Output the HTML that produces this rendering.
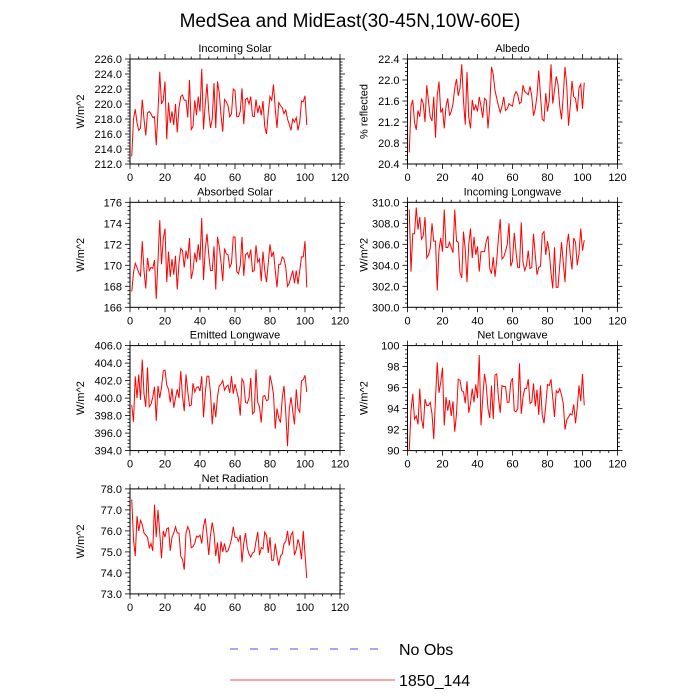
<!DOCTYPE html>
<html><head><meta charset="utf-8"><style>
html,body{margin:0;padding:0;background:#fff;}
svg{display:block;font-family:"Liberation Sans",Arial,sans-serif;}
</style></head><body>
<svg id="chart" width="700" height="700" viewBox="0 0 700 700" xmlns="http://www.w3.org/2000/svg">
<text x="350" y="27" font-size="19" text-anchor="middle">MedSea and MidEast(30-45N,10W-60E)</text>
<g id="panels"></g>
<g>
<line x1="230" y1="649" x2="387" y2="649" stroke="#6f6fff" stroke-width="1.2" stroke-dasharray="8,12"/>
<text x="399" y="655" font-size="16">No Obs</text>
<line x1="230" y1="680" x2="395" y2="680" stroke="#ff6f6f" stroke-width="1.2"/>
<text x="399" y="686" font-size="16">1850_144</text>
</g>
</svg>
<script>
const incomingSolar=[213,218,219.3,217.5,216.5,216.8,220.6,218,215.8,218.8,219,218.7,218.2,218.3,214.5,219,224.3,220,220.5,223,215.3,220.2,217.5,219,217.2,220,216.2,219.5,221,221.2,220.5,220.5,218.2,223.2,216.6,217,220.5,218.5,221,219,224.7,216.6,220,222.7,219,216.8,218,222.8,216.8,223,221.5,218.5,216.3,220.6,220.3,219.8,218.3,218.7,222,221.8,218.3,218.3,219,222.1,217.3,220.6,220.8,220,221,218.4,218.3,220.6,218.8,219.8,218.5,220.4,217,216,218.8,221,220.5,222.6,219.3,216.8,220.2,219.8,219.5,218.7,219.2,218,217.3,216.5,218,217.6,218.2,216.5,217.6,220.4,220.3,221.1,217.2];
const albedo=[20.62,21.5,21.62,21.2,21.05,21.42,21.3,21.65,21.55,21.2,21.9,21.6,21.3,21.22,21.68,20.9,21.7,21.97,21.38,21.45,21.08,21.5,21.65,21.32,21.4,21.55,21.85,22.02,21.7,21.85,22.3,21.6,21.15,22.15,21.3,21.08,21.62,21.42,21.52,21.4,21.68,21.5,21.28,21.65,21.62,21.08,21.5,22.25,22.1,21.8,21.65,21.5,21.38,21.5,21.68,21.42,21.45,21.55,21.52,21.5,21.7,21.78,21.72,21.55,21.58,21.9,21.78,21.75,21.72,21.88,21.7,21.32,21.45,21.7,22.18,21.7,21.25,21.22,21.75,21.4,21.62,22.3,21.55,21.8,22.07,21.92,21.5,21.25,21.7,22.25,21.9,21.13,21.5,21.98,21.68,21.65,21.4,21.85,21.92,21.45,21.95];
const absorbedSolar=[167.5,169.3,170.2,169.8,169.3,169,172.3,169.5,167.8,170.7,169.5,169.8,169.7,170.5,166.8,170.5,174.3,170.1,172.5,173.5,168.4,171.3,168.9,170.6,169.1,170.9,167.7,170.2,171.6,171.4,169.8,171.4,170.6,172.6,168.7,169.5,171.2,170.3,172,170.5,174.5,168.6,171.5,173,171,169.5,169.5,171.8,167.7,172.7,171.8,170.3,168.5,171.6,171.1,171,169.8,170.2,172.7,172.7,169.4,169.2,170,172.7,169,171,171.2,170.7,171.5,169.4,169.5,171.9,170.3,170.6,168.5,171.3,169.5,168.4,170.2,172,170.8,171.3,169.5,167.9,170.1,170.1,170.8,170.6,169.8,168,168.3,168.9,169.5,168.3,169.5,168.2,169.5,170.8,170.8,172.3,167.9];
const incomingLW=[309.3,303.4,307,307,309.5,307.4,308.6,306.5,306.8,308.6,304.7,305,305.6,308,306.3,306.3,301.6,305.5,306.6,305.3,309.3,305.7,305.7,306.2,305.7,305.2,309.3,306.3,306.2,303.3,302.8,307.2,305.5,302.4,306,307.5,304.7,306.7,305,305.8,303.4,305.3,305.3,305.3,306.3,306.8,303.7,303.2,304.8,302.9,304.5,306.7,308.4,304.6,304.8,305.3,306,308,303.9,304.4,307.1,305.3,303.8,303.8,308.1,304.3,303.5,304,305.4,303.7,303.8,307,305,303.1,303.8,303.9,307,307.2,305,306.3,305.3,303.3,301.8,305.7,301.9,301.9,304,306.2,304.3,302.4,305.8,307,305,303.6,306.6,306.2,304,305.1,307.5,305.4,306.4];
const emittedLW=[399.2,397.3,402.5,400,402.7,399.8,404.4,400.5,399,403.5,399,399.3,400.1,401.3,397.4,401.4,400,401.2,403.1,403.2,401.5,401,399.5,401.1,398.9,400,401,400,403.1,400.2,398.5,402.7,400.8,399.1,399.2,401.7,400.7,401.2,401.3,400.8,402.5,397.8,400.5,402.5,402.5,400.6,397,399.5,397.8,400.2,401.4,401.6,402,400.9,401.3,401.5,400.6,402.5,400.5,401.6,400.8,399.9,398,402.2,401.8,399.5,399.4,400,402.3,398.2,398.4,403.3,399.5,399,397.2,400.2,400.3,399.7,399.8,402.6,401.7,400.4,396.5,398.8,397.7,397.2,400,401.4,398.4,394.5,398.7,400.1,398.5,397,401,398.8,398.4,402,402.1,402.6,400.7];
const netLW=[90,93.8,95.4,93,93.3,92.5,95.9,93,92.1,94.9,94.3,94.3,94.6,93.5,91.1,95,98.4,95.5,96.5,97.9,92.4,95.1,93.8,94.8,93.3,94.7,91.8,93.5,96.8,96.7,95.7,95.6,94.5,96.6,93.6,94.5,95.9,94.6,96.3,95,99.1,92.4,95,97.3,96.2,94,93.1,96.2,93,97.2,97.3,95,93.6,96.2,96.1,96.1,94.6,94.6,96.5,96.9,93.8,93.7,94,98.3,93.5,95.1,95.9,95.9,96.8,94.5,94.6,96.4,94.2,95.8,93.4,96.2,93.4,92.6,94.3,96.3,96.2,96.8,95,93.2,95.7,95.5,95.9,95.3,94.5,92,92.9,93.2,93.5,93.4,94.4,92.6,94.1,96.2,94.7,97.3,94.3];
const netRadiation=[77.5,75.6,74.8,76.7,76,76.5,76.3,75.9,75.8,75.7,75.2,75.4,75.05,77.25,75.7,77,75.9,74.7,76,75.7,76.1,76.15,75.05,75.7,75.9,76.2,75.9,75.9,74.8,74.65,74.15,75.9,76.2,76,75.2,75.25,75.4,75.75,75.7,75.8,75.4,76.2,76.6,75.8,74.85,75.8,76.4,75.9,74.8,75.45,74.45,75.5,75,75.4,75,75.05,75.3,75.6,76.2,75.7,75.7,75.5,75.8,74.5,75.4,75.9,75.2,74.9,74.75,74.95,75,75.5,75.95,74.85,75.2,75.15,75.95,75.8,74.95,75.7,74.6,74.6,75.4,74.8,74.35,74.8,74.9,75.4,75.5,76,75.3,75.8,75.95,74.85,75.1,75.6,75.3,74.65,76,74.9,73.75];
const xTicks=[0,20,40,60,80,100,120];
const panelTitles=["Incoming Solar","Albedo","Absorbed Solar","Incoming Longwave","Emitted Longwave","Net Longwave","Net Radiation"];
const yLabels=["W/m^2","% reflected","W/m^2","W/m^2","W/m^2","W/m^2","W/m^2"];
const yMins=[212,20.4,166,300,394,90,73];
const yMaxs=[226,22.4,176,310,406,100,78];
const ySteps=[2,0.4,2,2,2,2,1];
const yDecimals=[1,1,0,1,1,0,1];
const series=[incomingSolar,albedo,absorbedSolar,incomingLW,emittedLW,netLW,netRadiation];

const NS="http://www.w3.org/2000/svg";
const root=document.getElementById('panels');
function mk(tag,attrs,parent){const e=document.createElementNS(NS,tag);for(const k in attrs)e.setAttribute(k,attrs[k]);parent.appendChild(e);return e;}
const W=210,H=105;
series.forEach((data,i)=>{
  const col=i%2,row=Math.floor(i/2);
  const L=col?407.5:130,T=59+row*143.3;
  const g=mk('g',{},root);
  
  
  const xs=v=>L+v/120*W;
  const ys=v=>T+H-(v-yMins[i])/(yMaxs[i]-yMins[i])*H;
  const t=mk('text',{x:L+W/2,y:T-7,'font-size':11,'text-anchor':'middle'},g);t.textContent=panelTitles[i];
  
  
  const yl=mk('text',{x:0,y:0,'font-size':11,'text-anchor':'middle',transform:`translate(${L-(col?40:46)},${T+H/2}) rotate(-90)`},g);yl.textContent=yLabels[i];
  
  
  for(let v=0;v<=120;v+=5){
    const maj=v%20===0,len=maj?5:2.5,x=xs(v);
    mk('line',{x1:x,x2:x,y1:T+H,y2:T+H+len,stroke:'#000','stroke-width':0.8},g);
    mk('line',{x1:x,x2:x,y1:T,y2:T-len,stroke:'#000','stroke-width':0.8},g);
  }
  xTicks.forEach(v=>{const tx=mk('text',{x:xs(v),y:T+H+17,'font-size':11,'text-anchor':'middle'},g);tx.textContent=v;
    
    });
  const st=ySteps[i],n=Math.round((yMaxs[i]-yMins[i])/st);
  for(let k=0;k<=n*5;k++){
    const v=yMins[i]+k*st/5,maj=k%5===0,len=maj?5:2.5,y=ys(v);
    mk('line',{x1:L,x2:L-len,y1:y,y2:y,stroke:'#000','stroke-width':0.8},g);
    mk('line',{x1:L+W,x2:L+W+len,y1:y,y2:y,stroke:'#000','stroke-width':0.8},g);
    if(maj){const ty=mk('text',{x:L-8,y:y+4,'font-size':11,'text-anchor':'end'},g);ty.textContent=v.toFixed(yDecimals[i]);
      
      }
  }
  mk('rect',{x:L,y:T,width:W,height:H,fill:'none',stroke:'#000','stroke-width':1},g);
  const pts=data.map((v,j)=>xs(j+1).toFixed(2)+','+ys(v).toFixed(2)).join(' ');
  const pl=mk('polyline',{points:pts,fill:'none',stroke:'#ff0000','stroke-width':1},g);
  
  
});
</script>
</body></html>
